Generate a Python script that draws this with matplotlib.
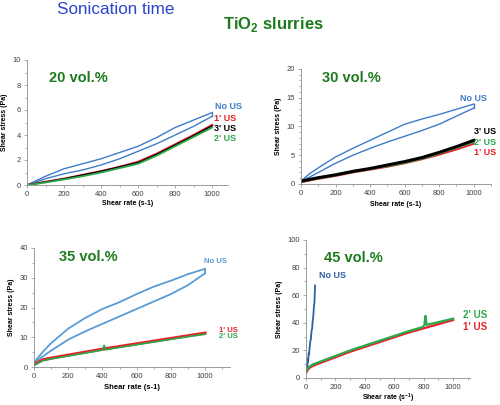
import matplotlib.pyplot as plt
from matplotlib.ticker import MultipleLocator

plt.rcParams['font.family'] = ['Liberation Sans', 'DejaVu Sans']
plt.rcParams['mathtext.fontset'] = 'custom'
plt.rcParams['mathtext.rm'] = 'Liberation Sans'
plt.rcParams['mathtext.bf'] = 'Liberation Sans:bold'

BLUE = '#3d7cc9'
LBLUE = '#5b9bd5'
DBLUE = '#2e5fa8'
RED = '#e8202a'
GREEN = '#2aa84a'
DGREEN = '#1c7a1c'

# 20 vol.%
rate20 = [0, 100, 200, 300, 400, 500, 600, 700, 800, 900, 1000]
nous20_up = [0, 0.7, 1.3, 1.7, 2.1, 2.6, 3.1, 3.8, 4.6, 5.2, 5.8]
nous20_down = [0, 0.5, 0.9, 1.2, 1.6, 2.1, 2.7, 3.3, 4.0, 4.7, 5.5]
us1_20 = [0, 0.25, 0.5, 0.8, 1.1, 1.45, 1.85, 2.5, 3.25, 4.0, 4.8]
us3_20 = [0, 0.25, 0.5, 0.8, 1.1, 1.45, 1.8, 2.45, 3.2, 3.95, 4.75]
us2_20 = [0, 0.2, 0.45, 0.7, 1.0, 1.35, 1.7, 2.35, 3.1, 3.85, 4.6]

# 30 vol.%
rate30 = [0, 50, 100, 200, 300, 400, 500, 600, 700, 800, 900, 1000]
nous30_up = [0.5, 1.8, 2.8, 4.7, 6.2, 7.6, 9.0, 10.4, 11.3, 12.1, 13.0, 13.9]
nous30_down = [0.5, 1.2, 2.0, 3.6, 5.0, 6.2, 7.3, 8.3, 9.3, 10.4, 11.8, 13.2]
us3_30 = [0.5, 0.8, 1.1, 1.6, 2.2, 2.7, 3.3, 3.9, 4.6, 5.5, 6.5, 7.6]
us2_30 = [0.4, 0.7, 1.0, 1.5, 2.1, 2.6, 3.1, 3.7, 4.4, 5.3, 6.3, 7.3]
us1_30 = [0.3, 0.6, 0.9, 1.4, 2.0, 2.5, 3.0, 3.6, 4.3, 5.1, 6.0, 7.0]

# 35 vol.%
rate35 = [0, 50, 100, 200, 300, 400, 500, 600, 700, 800, 900, 1000]
nous35_up = [1.5, 5.0, 8.0, 12.9, 16.5, 19.5, 21.8, 24.5, 27.0, 29.0, 31.2, 33.0]
nous35_down = [1.5, 3.5, 5.5, 9.2, 12.0, 14.5, 17.0, 19.5, 22.0, 24.5, 27.5, 31.5]
us1_35 = [0.8, 2.4, 3.0, 4.0, 5.0, 6.0, 6.9, 7.8, 8.7, 9.6, 10.5, 11.4]
rate35_g = [0, 50, 100, 200, 300, 400, 410, 420, 500, 600, 700, 800, 900, 1000]
us2_35 = [0.6, 2.1, 2.7, 3.7, 4.7, 5.7, 7.3, 5.8, 6.6, 7.5, 8.4, 9.3, 10.2, 11.0]

# 45 vol.%
rate45_nous = [3, 6, 9, 12, 15, 18, 21, 24, 27, 30, 33, 36, 39, 42, 45, 48, 51, 54, 57, 60, 62]
nous45 = [4, 10, 6, 14, 12, 18, 17, 22, 24, 27, 28, 32, 35, 36, 41, 43, 47, 52, 54, 62, 67]
rate45 = [0, 20, 50, 100, 200, 300, 400, 500, 600, 700, 800, 900, 1000]
us1_45 = [4, 7, 9, 11, 15, 19, 22.5, 26, 29.5, 33, 36, 39, 42]
rate45_g = [0, 20, 50, 100, 200, 300, 400, 500, 600, 700, 795, 805, 812, 820, 900, 1000]
us2_45 = [5, 8, 10, 12, 16, 20, 23.5, 27, 30.5, 34, 37, 38.5, 45, 38.5, 40.5, 43]

W, H = 500, 405


def make_axes(fig, x0, x1, ytop, ybot):
    # pixel box -> figure fraction
    return fig.add_axes([x0 / W, (H - ybot) / H, (x1 - x0) / W, (ybot - ytop) / H])


def style(ax, xmax, ymax, ystep, yminor):
    ax.set_xlim(0, xmax)
    ax.set_ylim(0, ymax)
    ax.xaxis.set_major_locator(MultipleLocator(200))
    ax.xaxis.set_minor_locator(MultipleLocator(100))
    ax.yaxis.set_major_locator(MultipleLocator(ystep))
    ax.yaxis.set_minor_locator(MultipleLocator(yminor))
    for s in ['top', 'right']:
        ax.spines[s].set_visible(False)
    for s in ['left', 'bottom']:
        ax.spines[s].set_color('#8c8c8c')
        ax.spines[s].set_linewidth(0.6)
    ax.tick_params(which='both', direction='out', color='#8c8c8c', width=0.5,
                   labelsize=5.5, labelcolor='#404040', pad=2)
    ax.tick_params(which='major', length=2.5)
    ax.tick_params(which='minor', length=1.5)
    ax.set_xticks([t for t in range(0, 1001, 200)])
    ax.set_ylabel('Shear stress (Pa)', fontsize=5, fontweight='bold', labelpad=3)


def lab(ax, x, y, s, c, size=6.5):
    ax.text(x, y, s, color=c, fontsize=size, fontweight='bold', va='center', ha='left', clip_on=False)


fig = plt.figure(figsize=(W / 100, H / 100), dpi=100)

fig.text(116 / W, 1 - 9 / H, 'Sonication time', color='#2b45cc', fontsize=12.3, ha='center', va='center')
fig.text(273 / W, 1 - 25 / H, r'TiO$_\mathbf{2}$ slurries', color=DGREEN, fontsize=12,
         fontweight='bold', ha='center', va='center')

# 20 vol.%
ax1 = make_axes(fig, 27, 228, 60, 185)
ax1.plot(rate20, nous20_up, color=BLUE, lw=1.0)
ax1.plot(rate20[::-1], nous20_down[::-1], color=BLUE, lw=1.0)
ax1.plot([1000, 1000], [nous20_up[-1], nous20_down[-1]], color=BLUE, lw=1.0)
ax1.plot(rate20, us1_20, color=RED, lw=1.6)
ax1.plot(rate20, us3_20, color='black', lw=1.0)
ax1.plot(rate20, us2_20, color=GREEN, lw=1.3)
style(ax1, 1085, 10, 2, 1)
ax1.set_xlabel('Shear rate (s-1)', fontsize=5, fontweight='bold', labelpad=1.5)
ax1.text(119, 8.6, '20 vol.%', color=DGREEN, fontsize=10.5, fontweight='bold', va='center')
lab(ax1, 1016, 6.3, 'No US', BLUE)
lab(ax1, 1008, 5.3, "1' US", RED)
lab(ax1, 1008, 4.55, "3' US", 'black')
lab(ax1, 1008, 3.75, "2' US", GREEN)

# 30 vol.%
ax2 = make_axes(fig, 301, 491, 69, 184)
ax2.plot(rate30, nous30_up, color=BLUE, lw=1.0)
ax2.plot(rate30, nous30_down, color=BLUE, lw=1.0)
ax2.plot([1000, 1000], [nous30_up[-1], nous30_down[-1]], color=BLUE, lw=1.0)
ax2.plot(rate30, us1_30, color=RED, lw=1.4)
ax2.plot(rate30, us2_30, color=GREEN, lw=1.4)
ax2.plot(rate30, us3_30, color='black', lw=2.2)
style(ax2, 1100, 20, 5, 1)
ax2.set_xlabel('Shear rate (s-1)', fontsize=5, fontweight='bold', labelpad=3)
ax2.text(122, 18.4, '30 vol.%', color=DGREEN, fontsize=10.5, fontweight='bold', va='center')
lab(ax2, 919, 14.8, 'No US', BLUE)
lab(ax2, 1000, 9.2, "3' US", 'black')
lab(ax2, 1000, 7.3, "2' US", GREEN)
lab(ax2, 1000, 5.4, "1' US", RED)

# 35 vol.%
ax3 = make_axes(fig, 34, 230, 248, 367)
ax3.plot(rate35, nous35_up, color=LBLUE, lw=1.3)
ax3.plot(rate35, nous35_down, color=LBLUE, lw=1.3)
ax3.plot([1000, 1000], [nous35_up[-1], nous35_down[-1]], color=LBLUE, lw=1.3)
ax3.plot(rate35, us1_35, color=RED, lw=2.2)
ax3.plot(rate35_g, us2_35, color=GREEN, lw=1.2)
style(ax3, 1146, 40, 10, 5)
ax3.set_xlabel('Shear rate (s-1)', fontsize=5.5, fontweight='bold', labelpad=3)
ax3.text(146, 37, '35 vol.%', color=DGREEN, fontsize=10.5, fontweight='bold', va='center')
lab(ax3, 994, 35.6, 'No US', LBLUE, 5.5)
lab(ax3, 1082, 12.4, "1' US", RED, 5.5)
lab(ax3, 1082, 10.1, "2' US", GREEN, 5.5)

# 45 vol.%
ax4 = make_axes(fig, 306, 470, 240, 378)
ax4.plot(rate45_nous, nous45, color=DBLUE, lw=1.3)
ax4.plot(rate45, us1_45, color=RED, lw=1.6)
ax4.plot(rate45_g, us2_45, color=GREEN, lw=1.6)
style(ax4, 1115, 100, 20, 10)
ax4.set_xlabel(r'Shear rate (s$^{\mathbf{-1}}$)', fontsize=5, fontweight='bold', labelpad=0.5)
ax4.text(122, 87, '45 vol.%', color=DGREEN, fontsize=10.5, fontweight='bold', va='center')
lab(ax4, 88, 74.6, 'No US', DBLUE, 6.5)
lab(ax4, 1068, 45.6, "2' US", GREEN, 7)
lab(ax4, 1068, 37, "1' US", RED, 7)

plt.savefig('out.png', dpi=100)
